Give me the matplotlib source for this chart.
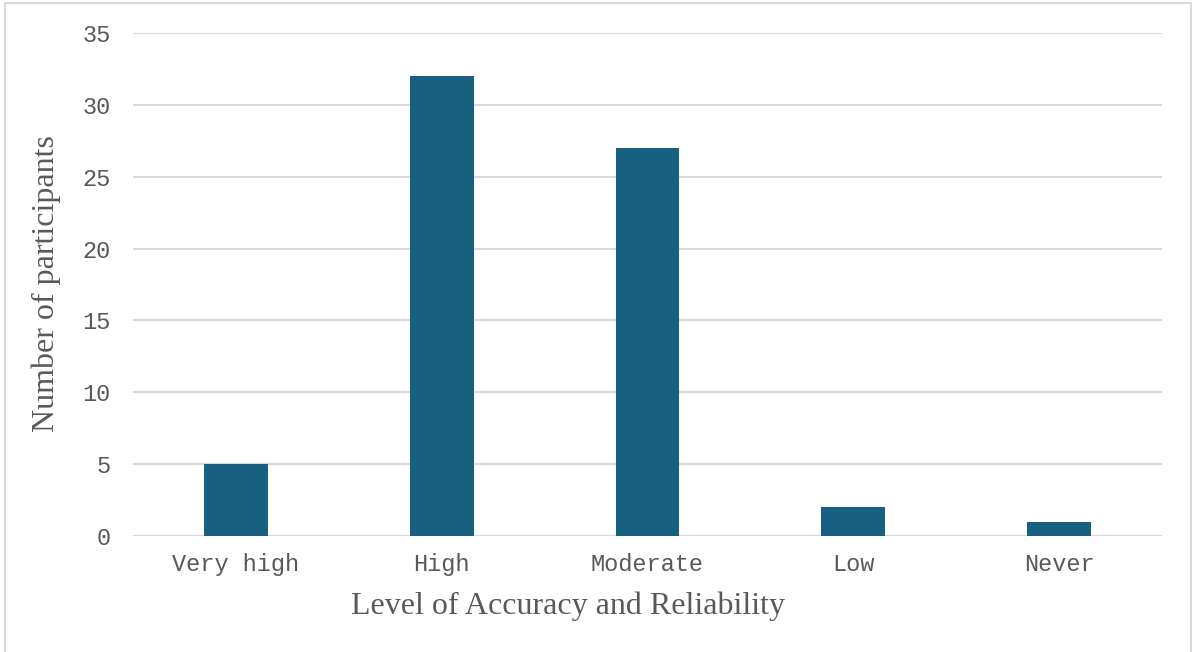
import matplotlib
matplotlib.use("Agg")
import matplotlib.pyplot as plt
from matplotlib.patches import Rectangle

categories = ["Very high", "High", "Moderate", "Low", "Never"]
participants = [5, 32, 27, 2, 1]
y_ticks = [0, 5, 10, 15, 20, 25, 30, 35]

bar_color = "#17607F"
grid_color = "#D9D9D9"
text_color = "#595959"

fig = plt.figure(figsize=(11.95, 6.52), dpi=100)
ax = fig.add_axes([133 / 1195, 1 - 536 / 652, (1162 - 133) / 1195, (536 - 33) / 652])

x = range(len(categories))
ax.bar(x, participants, width=0.31, color=bar_color, zorder=3)

ax.set_xlim(-0.5, len(categories) - 0.5)
ax.set_ylim(0, 35)
ax.set_yticks(y_ticks)
ax.set_xticks(list(x))
ax.set_xticklabels(categories)

for s in ax.spines.values():
    s.set_visible(False)
ax.yaxis.grid(True, color=grid_color, linewidth=1.5, zorder=0)
ax.tick_params(axis="both", length=0, colors=text_color, labelsize=17)
ax.tick_params(axis="x", pad=12)
ax.tick_params(axis="y", pad=16)
for lbl in ax.get_xticklabels() + ax.get_yticklabels():
    lbl.set_fontfamily("Liberation Mono")

fig.text(568 / 1195, 1 - 606 / 652, "Level of Accuracy and Reliability",
         ha="center", va="center", fontsize=23, family="Liberation Serif", color=text_color)
fig.text(46 / 1195, 1 - 284 / 652, "Number of participants", rotation=90,
         ha="center", va="center", fontsize=23, family="Liberation Serif", color=text_color)

# light outer frame around the chart area
fig.patches.append(Rectangle((5 / 1195, -0.02), (1191 - 5) / 1195, 1.02 - 3 / 652,
                             transform=fig.transFigure, fill=False,
                             edgecolor=grid_color, linewidth=1.5))

fig.savefig("out.png", dpi=100, facecolor="white")
